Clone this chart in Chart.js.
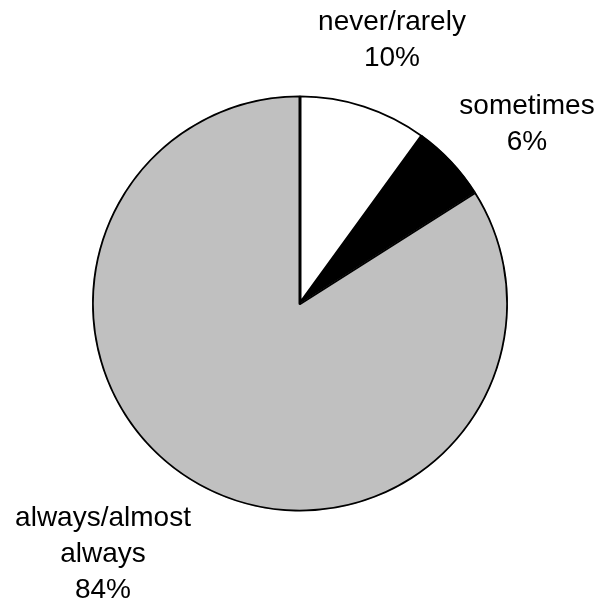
<!DOCTYPE html>
<html>
<head>
<meta charset="utf-8">
<script src="https://cdn.jsdelivr.net/npm/chart.js@4/dist/chart.umd.min.js"></script>
<style>
  html, body { margin: 0; padding: 0; background: #fff; }
  #wrap { width: 605px; height: 603px; }
</style>
</head>
<body>
<div id="wrap"><canvas id="pie"></canvas></div>
<script>
const categories = ['never/rarely', 'sometimes', 'always/almost always'];
const labelLines = [['never/rarely'], ['sometimes'], ['always/almost', 'always']];
const percents = [10, 6, 84];
const sliceColors = ['#ffffff', '#000000', '#c0c0c0'];

// label placement, relative to pie centre (first baseline)
const labelOffsets = [[92, -274], [227, -190], [-197, 222]];

const outsideLabels = {
  id: 'outsideLabels',
  afterDraw(chart) {
    const arc = chart.getDatasetMeta(0).data[0];
    if (!arc) return;
    const ctx = chart.ctx;
    ctx.save();
    ctx.fillStyle = '#000';
    ctx.font = '28px "Liberation Sans", Arial, sans-serif';
    ctx.textAlign = 'center';
    ctx.textBaseline = 'alphabetic';
    percents.forEach((p, i) => {
      let lines = labelLines[i].concat([p + '%']);
      let x = arc.x + labelOffsets[i][0];
      let y = arc.y + labelOffsets[i][1];
      lines.forEach((t, j) => ctx.fillText(t, x, y + j * 36));
    });
    ctx.restore();
  }
};

new Chart('pie', {
  type: 'pie',
  data: {
    labels: categories,
    datasets: [{
      data: percents,
      backgroundColor: sliceColors,
      borderColor: '#000',
      borderWidth: 1.5,
      borderAlign: 'inner'
    }]
  },
  options: {
    responsive: true,
    maintainAspectRatio: false,
    animation: false,
    layout: { padding: { top: 95, bottom: 91, left: 92, right: 97 } },
    plugins: {
      legend: { display: false },
      tooltip: { enabled: false }
    }
  },
  plugins: [outsideLabels]
});
</script>
</body>
</html>
